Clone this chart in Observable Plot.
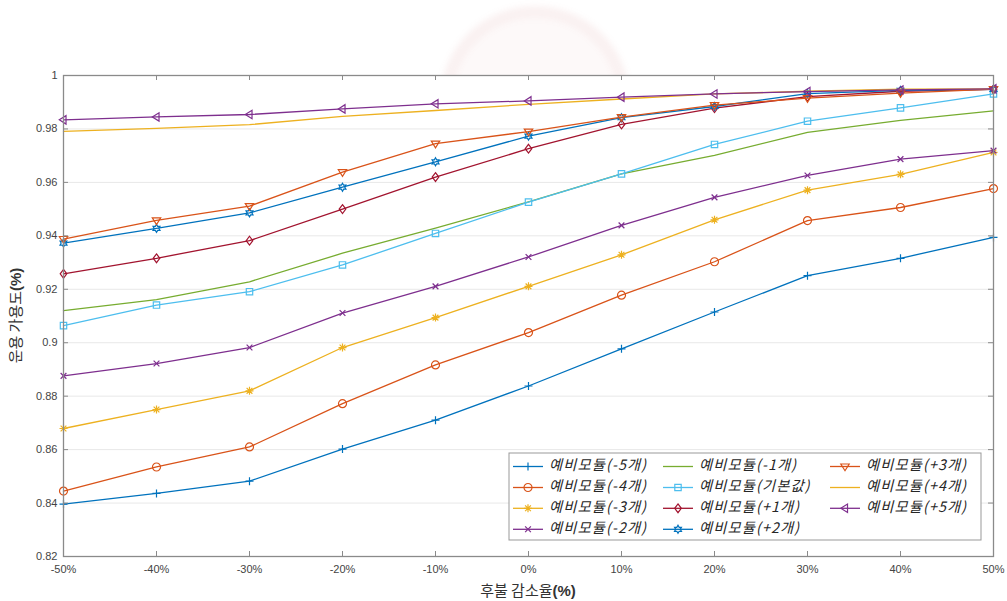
<!DOCTYPE html>
<html>
<head>
<meta charset="utf-8">
<script src="https://cdn.jsdelivr.net/npm/d3@7"></script>
<script src="https://cdn.jsdelivr.net/npm/@observablehq/plot@0.6"></script>
<style>
  body { margin: 0; background: #fff; }
  #wrap { position: relative; width: 1007px; height: 601px; overflow: hidden; background: #fff; }
  #seal {
    position: absolute; left: 440px; top: 6px; width: 190px; height: 190px; border-radius: 50%;
    background: rgba(205, 90, 90, 0.035); border: 12px solid rgba(205, 90, 90, 0.05);
    box-sizing: border-box; filter: blur(3px);
  }
  #chart { position: absolute; left: 0; top: 0; }
</style>
</head>
<body>
<div id="wrap"><div id="seal"></div><div id="chart"></div></div>
<script>
// Reduction rate of the deferred payment (%), x axis
const xValues = [-50, -40, -30, -20, -10, 0, 10, 20, 30, 40, 50];
const yTicks = [0.82, 0.84, 0.86, 0.88, 0.9, 0.92, 0.94, 0.96, 0.98, 1];

// Operational availability per spare-module scenario
const minus5 = [0.8396, 0.8436, 0.8482, 0.8602, 0.8710, 0.8838, 0.8977, 0.9115, 0.9251, 0.9316, 0.9394];
const minus4 = [0.8445, 0.8535, 0.8610, 0.8772, 0.8917, 0.9038, 0.9178, 0.9303, 0.9457, 0.9506, 0.9577];
const minus3 = [0.8679, 0.8750, 0.8820, 0.8982, 0.9094, 0.9211, 0.9329, 0.9460, 0.9571, 0.9630, 0.9712];
const minus2 = [0.8876, 0.8922, 0.8982, 0.9111, 0.9211, 0.9321, 0.9439, 0.9544, 0.9626, 0.9687, 0.9719];
const minus1 = [0.9120, 0.9161, 0.9228, 0.9335, 0.9429, 0.9527, 0.9632, 0.9701, 0.9787, 0.9832, 0.9868];
const baseline = [0.9064, 0.9141, 0.9191, 0.9291, 0.9409, 0.9526, 0.9632, 0.9742, 0.9829, 0.9879, 0.9931];
const plus1 = [0.9258, 0.9316, 0.9382, 0.9500, 0.9620, 0.9726, 0.9817, 0.9878, 0.9921, 0.9941, 0.9948];
const plus2 = [0.9373, 0.9428, 0.9486, 0.9582, 0.9677, 0.9773, 0.9842, 0.9884, 0.9932, 0.9944, 0.9948];
const plus3 = [0.9388, 0.9458, 0.9511, 0.9638, 0.9745, 0.9790, 0.9844, 0.9889, 0.9915, 0.9934, 0.9949];
const plus4 = [0.9791, 0.9802, 0.9816, 0.9847, 0.9869, 0.9892, 0.9912, 0.9931, 0.9941, 0.9949, 0.9950];
const plus5 = [0.9834, 0.9845, 0.9854, 0.9875, 0.9894, 0.9905, 0.9919, 0.9931, 0.9940, 0.9946, 0.9950];

const seriesNames = [
  "예비모듈(-5개)", "예비모듈(-4개)", "예비모듈(-3개)", "예비모듈(-2개)",
  "예비모듈(-1개)", "예비모듈(기본값)", "예비모듈(+1개)", "예비모듈(+2개)",
  "예비모듈(+3개)", "예비모듈(+4개)", "예비모듈(+5개)"
];
const seriesValues = [minus5, minus4, minus3, minus2, minus1, baseline, plus1, plus2, plus3, plus4, plus5];
const seriesColors = [
  "#0072BD", "#D95319", "#EDB120", "#7E2F8E", "#77AC30", "#4DBEEE",
  "#A2142F", "#0072BD", "#D95319", "#EDB120", "#7E2F8E"
];
const seriesMarkers = ["plus", "circle", "asterisk", "times", null, "square", "diamond", "hexagram", "down", null, "left"];

// Hollow marker shapes drawn into any path context
const rad = size => Math.sqrt(size / Math.PI);
const markerShapes = {
  plus: { draw(c, s) { const r = rad(s); c.moveTo(-r, 0); c.lineTo(r, 0); c.moveTo(0, -r); c.lineTo(0, r); } },
  times: { draw(c, s) { const r = rad(s) * 0.72; c.moveTo(-r, -r); c.lineTo(r, r); c.moveTo(-r, r); c.lineTo(r, -r); } },
  asterisk: { draw(c, s) { const r = rad(s), q = r * 0.72;
    c.moveTo(-r, 0); c.lineTo(r, 0); c.moveTo(0, -r); c.lineTo(0, r);
    c.moveTo(-q, -q); c.lineTo(q, q); c.moveTo(-q, q); c.lineTo(q, -q); } },
  circle: { draw(c, s) { const r = rad(s); c.moveTo(r, 0); c.arc(0, 0, r, 0, 2 * Math.PI); } },
  square: { draw(c, s) { const r = rad(s) * 0.8; c.moveTo(-r, -r); c.lineTo(r, -r); c.lineTo(r, r); c.lineTo(-r, r); c.closePath(); } },
  diamond: { draw(c, s) { const r = rad(s) * 1.1, w = r * 0.75; c.moveTo(0, -r); c.lineTo(w, 0); c.lineTo(0, r); c.lineTo(-w, 0); c.closePath(); } },
  hexagram: { draw(c, s) { const r = rad(s), ri = r * 0.58;
    for (let k = 0; k < 12; k++) { const a = -Math.PI / 2 + k * Math.PI / 6, rr = k % 2 ? ri : r;
      const px = rr * Math.cos(a), py = rr * Math.sin(a); k ? c.lineTo(px, py) : c.moveTo(px, py); }
    c.closePath(); } },
  down: { draw(c, s) { const r = rad(s) * 1.05; c.moveTo(-r, -r * 0.6); c.lineTo(r, -r * 0.6); c.lineTo(0, r); c.closePath(); } },
  left: { draw(c, s) { const r = rad(s) * 1.05; c.moveTo(-r, 0); c.lineTo(r * 0.6, -r); c.lineTo(r * 0.6, r); c.closePath(); } }
};

const W = 1007, H = 601, mL = 63, mR = 14, mT = 75, mB = 45;
const innerW = W - mL - mR, innerH = H - mT - mB;
const axisColor = "#8a8a8a";
const markerR = 4;

const seriesMarks = seriesValues.flatMap((vals, i) => {
  const rows = xValues.map((x, j) => ({ x, y: vals[j] }));
  const out = [Plot.line(rows, { x: "x", y: "y", stroke: seriesColors[i], strokeWidth: 1.3 })];
  if (seriesMarkers[i]) {
    out.push(Plot.dot(rows, { x: "x", y: "y", symbol: markerShapes[seriesMarkers[i]], r: markerR,
      stroke: seriesColors[i], fill: "none", strokeWidth: 1.2 }));
  }
  return out;
});

const chart = Plot.plot({
  width: W, height: H,
  marginLeft: mL, marginRight: mR, marginTop: mT, marginBottom: mB,
  style: { fontFamily: "'Liberation Sans', Arial, sans-serif", fontSize: "11px", background: "transparent" },
  x: { domain: [-50, 50] },
  y: { domain: [0.82, 1] },
  marks: [
    Plot.frame({ fill: "white", stroke: null }),
    Plot.gridY(yTicks, { stroke: "#e8e8e8", strokeOpacity: 1, strokeWidth: 1 }),
    ...seriesMarks,
    Plot.frame({ stroke: axisColor, strokeWidth: 1.3 }),
    Plot.ruleX(xValues, { x: d => d, insetTop: innerH - 5, stroke: axisColor }),
    Plot.ruleX(xValues, { x: d => d, insetBottom: innerH - 5, stroke: axisColor }),
    Plot.ruleY(yTicks, { y: d => d, insetRight: innerW - 5, stroke: axisColor }),
    Plot.ruleY(yTicks, { y: d => d, insetLeft: innerW - 5, stroke: axisColor }),
    Plot.axisX(xValues, { tickSize: 0, tickPadding: 9, tickFormat: d => d + "%", fill: "#444", fontSize: 11, label: null }),
    Plot.axisY(yTicks, { tickSize: 0, tickPadding: 6, tickFormat: d => String(+d.toFixed(2)), fill: "#444", fontSize: 11, label: null })
  ]
});

document.getElementById("chart").appendChild(chart);

const svg = d3.select(chart);
const korean = "'Noto Sans CJK KR', 'Noto Sans', sans-serif";

// Axis titles with a bold unit suffix
function axisTitle(sel, main) {
  sel.append("tspan").text(main);
  sel.append("tspan").attr("font-weight", "bold").attr("font-family", "'Liberation Sans', Arial, sans-serif").text("(%)");
}
axisTitle(svg.append("text")
  .attr("transform", `translate(17,${mT + innerH / 2}) rotate(-90)`)
  .attr("text-anchor", "middle").attr("dominant-baseline", "middle")
  .attr("font-family", korean).attr("font-size", 15).attr("fill", "#333"), "운용 가용도");
axisTitle(svg.append("text")
  .attr("x", mL + innerW / 2).attr("y", 596)
  .attr("text-anchor", "middle")
  .attr("font-family", korean).attr("font-size", 15).attr("fill", "#333"), "후불 감소율");

// Legend: three columns, filled column by column
const legend = svg.append("g");
legend.append("rect").attr("x", 509).attr("y", 453).attr("width", 472).attr("height", 87)
  .attr("fill", "white").attr("stroke", "#999").attr("stroke-width", 1);
const colX = [513, 663, 830];
const rowY = [466.5, 487.5, 508.3, 529.3];
seriesNames.forEach((name, i) => {
  const x0 = colX[Math.floor(i / 4)], y0 = rowY[i % 4];
  const g = legend.append("g");
  g.append("line").attr("x1", x0).attr("x2", x0 + 30).attr("y1", y0).attr("y2", y0)
    .attr("stroke", seriesColors[i]).attr("stroke-width", 1.3);
  if (seriesMarkers[i]) {
    const p = d3.path();
    markerShapes[seriesMarkers[i]].draw(p, Math.PI * markerR * markerR);
    g.append("path").attr("d", p.toString()).attr("transform", `translate(${x0 + 15},${y0})`)
      .attr("fill", "none").attr("stroke", seriesColors[i]).attr("stroke-width", 1.2);
  }
  g.append("text").attr("x", x0 + 36).attr("y", y0).attr("dominant-baseline", "middle")
    .attr("text-anchor", "start").attr("letter-spacing", 1.1)
    .attr("font-family", korean).attr("font-style", "italic").attr("font-size", 14.3).attr("fill", "#262626")
    .text(name);
});
</script>
</body>
</html>
